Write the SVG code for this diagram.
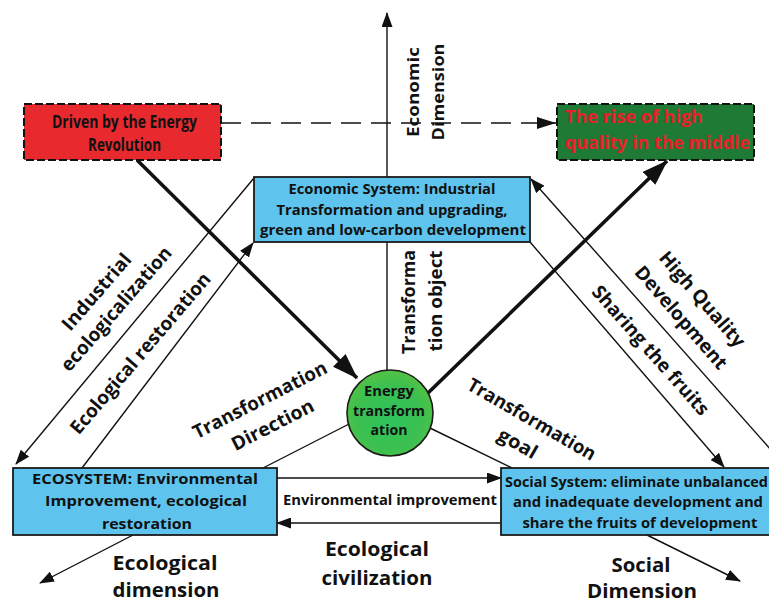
<svg xmlns="http://www.w3.org/2000/svg" width="769" height="603" viewBox="0 0 769 603">
<defs>
<marker id="a" markerUnits="userSpaceOnUse" markerWidth="15" markerHeight="11" refX="14" refY="5.5" orient="auto"><path d="M0,0 L15,5.5 L0,11 z" fill="#111"/></marker>
<marker id="ad" markerUnits="userSpaceOnUse" markerWidth="19" markerHeight="12" refX="19" refY="6" orient="auto"><path d="M0,0 L19,6 L0,12 z" fill="#111"/></marker>
<marker id="at" markerUnits="userSpaceOnUse" markerWidth="26" markerHeight="18" refX="25" refY="9" orient="auto"><path d="M0,0 L26,9 L0,18 z" fill="#111"/></marker>
<radialGradient id="gc" cx="0.5" cy="0.55" r="0.55"><stop offset="0" stop-color="#2FC35C"/><stop offset="0.7" stop-color="#3CC050"/><stop offset="1" stop-color="#55C244"/></radialGradient>
</defs>
<style>
.t{font-family:"Open Sans","Liberation Sans",Arial,sans-serif;font-weight:700;fill:#111}
.ln{stroke:#111;stroke-width:1.4;fill:none}
.tk{stroke:#111;stroke-width:3.6;fill:none}
.box{fill:#5EC4EE;stroke:#1a1a1a;stroke-width:1.8}
.dbox{stroke:#111;stroke-width:2;stroke-dasharray:8 3}
.lb{font-size:19px}
.bt{font-size:14px}
</style>
<rect width="769" height="603" fill="#fff"/>
<g id="connectors">
<line class="ln" x1="387" y1="370" x2="387" y2="13" marker-end="url(#a)"/>
<line class="ln" x1="221" y1="123" x2="556" y2="123" stroke-width="2" stroke-dasharray="20 10" marker-end="url(#ad)"/>
<line class="ln" x1="254" y1="178" x2="16" y2="464" marker-end="url(#a)"/>
<line class="ln" x1="82" y1="468" x2="253" y2="243" marker-end="url(#a)"/>
<line class="ln" x1="772" y1="451" x2="531" y2="179" marker-end="url(#a)"/>
<line class="ln" x1="530" y1="242" x2="724" y2="467" marker-end="url(#a)"/>
<line class="ln" x1="349" y1="424" x2="263" y2="468"/>
<line class="ln" x1="430" y1="428" x2="512" y2="468"/>
<line class="ln" x1="277" y1="478" x2="501" y2="478" marker-end="url(#a)"/>
<line class="ln" x1="501" y1="523" x2="277" y2="523" marker-end="url(#a)"/>
<line class="ln" x1="133" y1="535" x2="40" y2="583" marker-end="url(#a)"/>
<line class="ln" x1="647" y1="535" x2="740" y2="581" marker-end="url(#a)"/>
<line class="tk" x1="137" y1="160" x2="357" y2="378" marker-end="url(#at)"/>
<line class="tk" x1="428" y1="393" x2="667" y2="161" marker-end="url(#at)"/>
</g>
<g id="labels" class="t">
<g transform="translate(413,92) rotate(-90)"><text font-size="16" text-anchor="middle" dominant-baseline="central" textLength="90" lengthAdjust="spacingAndGlyphs">Economic</text></g>
<g transform="translate(438,92) rotate(-90)"><text font-size="16" text-anchor="middle" dominant-baseline="central" textLength="97" lengthAdjust="spacingAndGlyphs">Dimension</text></g>
<g transform="translate(408,302) rotate(-90)"><text font-size="17" text-anchor="middle" dominant-baseline="central" textLength="104" lengthAdjust="spacingAndGlyphs">Transforma</text></g>
<g transform="translate(435,301) rotate(-90)"><text font-size="17" text-anchor="middle" dominant-baseline="central" textLength="101" lengthAdjust="spacingAndGlyphs">tion object</text></g>
<g transform="translate(106,300) rotate(-49)" class="lb" text-anchor="middle" dominant-baseline="central"><text y="-13" textLength="95" lengthAdjust="spacingAndGlyphs">Industrial</text><text y="13" textLength="158" lengthAdjust="spacingAndGlyphs">ecologicalization</text></g>
<g transform="translate(140,353) rotate(-49.5)" class="lb" text-anchor="middle" dominant-baseline="central"><text textLength="205" lengthAdjust="spacingAndGlyphs">Ecological restoration</text></g>
<g transform="translate(266,412) rotate(-27)" class="lb" text-anchor="middle" dominant-baseline="central"><text y="-14" textLength="148" lengthAdjust="spacingAndGlyphs">Transformation</text><text y="14" textLength="90" lengthAdjust="spacingAndGlyphs">Direction</text></g>
<g transform="translate(525,431) rotate(30)" class="lb" text-anchor="middle" dominant-baseline="central"><text y="-14" textLength="145" lengthAdjust="spacingAndGlyphs">Transformation</text><text y="14" textLength="42" lengthAdjust="spacingAndGlyphs">goal</text></g>
<g transform="translate(692,308) rotate(49)" class="lb" text-anchor="middle" dominant-baseline="central"><text y="-14" textLength="120" lengthAdjust="spacingAndGlyphs">High Quality</text><text y="14" textLength="130" lengthAdjust="spacingAndGlyphs">Development</text></g>
<g transform="translate(651,350) rotate(48.5)" class="lb" text-anchor="middle" dominant-baseline="central"><text textLength="166" lengthAdjust="spacingAndGlyphs">Sharing the fruits</text></g>
<text x="390" y="505" font-size="14" text-anchor="middle" textLength="214" lengthAdjust="spacingAndGlyphs">Environmental improvement</text>
<g font-size="20" text-anchor="middle">
<text x="165" y="570" textLength="105" lengthAdjust="spacingAndGlyphs">Ecological</text>
<text x="166" y="597" textLength="107" lengthAdjust="spacingAndGlyphs">dimension</text>
<text x="377" y="556" textLength="104" lengthAdjust="spacingAndGlyphs">Ecological</text>
<text x="377" y="585" textLength="111" lengthAdjust="spacingAndGlyphs">civilization</text>
<text x="641" y="572" textLength="59" lengthAdjust="spacingAndGlyphs">Social</text>
<text x="642" y="598" textLength="110" lengthAdjust="spacingAndGlyphs">Dimension</text>
</g>
</g>
<g id="n-driven">
<rect x="24" y="104" width="197" height="56" fill="#E8292E" class="dbox"/>
<g class="t" font-size="18" text-anchor="middle">
<text x="124.5" y="128" textLength="145" lengthAdjust="spacingAndGlyphs">Driven by the Energy</text>
<text x="124.5" y="151" textLength="73" lengthAdjust="spacingAndGlyphs">Revolution</text>
</g>
</g>
<g id="n-rise">
<rect x="557" y="104" width="197" height="56" fill="#1F7A36" class="dbox"/>
<g class="t" font-size="17" style="fill:#E8202A">
<text x="565" y="123" textLength="138" lengthAdjust="spacingAndGlyphs">The rise of high</text>
<text x="565" y="149" textLength="185" lengthAdjust="spacingAndGlyphs">quality in the middle</text>
</g>
</g>
<g id="n-economic">
<rect x="254" y="177" width="276" height="65" class="box"/>
<g class="t bt" text-anchor="middle">
<text x="392" y="194" textLength="207" lengthAdjust="spacingAndGlyphs">Economic System: Industrial</text>
<text x="392" y="215" textLength="231" lengthAdjust="spacingAndGlyphs">Transformation and upgrading,</text>
<text x="393" y="235" textLength="266" lengthAdjust="spacingAndGlyphs">green and low-carbon development</text>
</g>
</g>
<g id="n-energy">
<circle cx="390" cy="413" r="43" fill="url(#gc)" stroke="#1a1a1a" stroke-width="1.6"/>
<g class="t" font-size="14" text-anchor="middle">
<text x="389" y="396" textLength="50" lengthAdjust="spacingAndGlyphs">Energy</text>
<text x="389" y="416" textLength="72" lengthAdjust="spacingAndGlyphs">transform</text>
<text x="389" y="435" textLength="37" lengthAdjust="spacingAndGlyphs">ation</text>
</g>
</g>
<g id="n-ecosystem">
<rect x="13" y="468" width="264" height="67" class="box"/>
<g class="t" font-size="15" text-anchor="middle">
<text x="145" y="484" textLength="226" lengthAdjust="spacingAndGlyphs">ECOSYSTEM: Environmental</text>
<text x="146" y="506" textLength="202" lengthAdjust="spacingAndGlyphs">Improvement, ecological</text>
<text x="147" y="529" textLength="90" lengthAdjust="spacingAndGlyphs">restoration</text>
</g>
</g>
<g id="n-social">
<rect x="501" y="468" width="272" height="67" class="box"/>
<g class="t" font-size="14.5">
<text x="505" y="487" textLength="263" lengthAdjust="spacingAndGlyphs">Social System: eliminate unbalanced</text>
<text x="638" y="507" text-anchor="middle" textLength="250" lengthAdjust="spacingAndGlyphs">and inadequate development and</text>
<text x="640" y="528" text-anchor="middle" textLength="235" lengthAdjust="spacingAndGlyphs">share the fruits of development</text>
</g>
</g>
</svg>
